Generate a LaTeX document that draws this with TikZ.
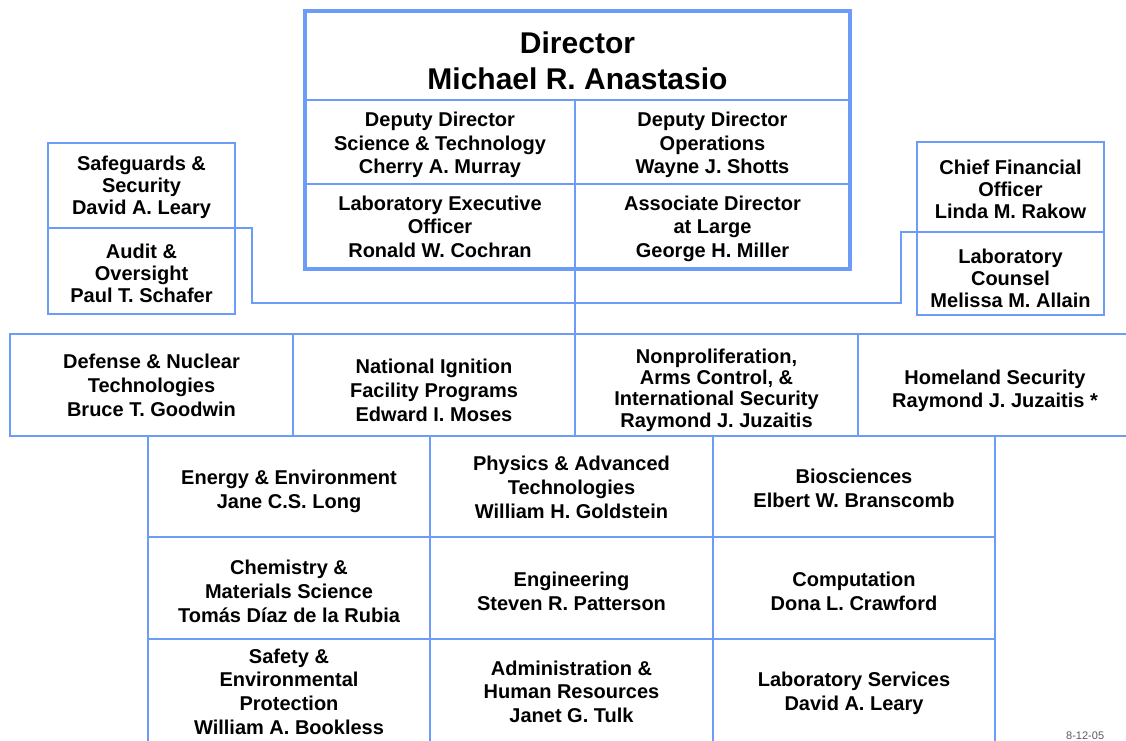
\documentclass[tikz,border=0pt]{standalone}
\usepackage{fontspec}
\setmainfont{Liberation Sans}
\definecolor{lineblue}{RGB}{108,156,248}
\definecolor{dategray}{RGB}{90,90,90}
% #1 name, #2 centre, #3 width, #4 height, #5 text style, #6 text shift (down, px), #7 text
\newcommand{\orgcell}[7]{%
  \node[cell,minimum width=#3,minimum height=#4] (#1) at #2 {};
  \node[txt,#5] (#1-t) at ([yshift=-#6]#1.center) {#7};}
\begin{document}
\begin{tikzpicture}[x=1pt,y=-1pt,
  cell/.style={draw=lineblue,line width=1.4pt,inner sep=0pt,outer sep=0pt},
  txt/.style={inner sep=0pt,align=center,font=\fontsize{20}{24}\selectfont\bfseries},
  reg/.style={},
  tight/.style={font=\fontsize{20}{22}\selectfont\bfseries},
  mid/.style={font=\fontsize{20}{23.5}\selectfont\bfseries},
  dense/.style={font=\fontsize{20}{21.3}\selectfont\bfseries},
  big/.style={font=\fontsize{30}{36}\selectfont\bfseries},
  conn/.style={draw=lineblue,line width=1.4pt},
  thickbox/.style={draw=lineblue,line width=4pt}]
\useasboundingbox (0,0) rectangle (1126,740);

% Director block
\orgcell{dir}{(577.5,55.5)}{545pt}{89pt}{big}{5pt}{Director\\Michael R. Anastasio}
\orgcell{dst}{(440,142)}{270pt}{84pt}{mid}{3pt}{Deputy Director\\Science \& Technology\\Cherry A. Murray}
\orgcell{ddo}{(712.5,142)}{275pt}{84pt}{mid}{3pt}{Deputy Director\\Operations\\Wayne J. Shotts}
\orgcell{leo}{(440,226.5)}{270pt}{85pt}{mid}{0pt}{Laboratory Executive\\Officer\\Ronald W. Cochran}
\orgcell{adl}{(712.5,226.5)}{275pt}{85pt}{mid}{2pt}{Associate Director\\at Large\\George H. Miller}
\draw[thickbox] (dir.north west) rectangle (adl.south east);

% Side staff offices
\orgcell{safe}{(141.5,185.5)}{187pt}{85pt}{tight}{2pt}{Safeguards \&\\Security\\David A. Leary}
\orgcell{audit}{(141.5,271)}{187pt}{86pt}{tight}{2pt}{Audit \&\\Oversight\\Paul T. Schafer}
\orgcell{cfo}{(1010.5,187)}{187pt}{90pt}{tight}{2pt}{Chief Financial\\Officer\\Linda M. Rakow}
\orgcell{counsel}{(1010.5,273.5)}{187pt}{83pt}{tight}{5pt}{Laboratory\\Counsel\\Melissa M. Allain}

% Programs row
\orgcell{dnt}{(151.5,385)}{283pt}{102pt}{reg}{0pt}{Defense \& Nuclear\\Technologies\\Bruce T. Goodwin}
\orgcell{nif}{(434,385)}{282pt}{102pt}{reg}{5pt}{National Ignition\\Facility Programs\\Edward I. Moses}
\orgcell{nai}{(716.5,385)}{283pt}{102pt}{dense}{5pt}{Nonproliferation,\\Arms Control, \&\\International Security\\Raymond J. Juzaitis}
\orgcell{hs}{(995,385)}{274pt}{102pt}{mid}{6pt}{Homeland Security\\Raymond J. Juzaitis *}

% Directorates grid
\orgcell{ee}{(289,486.5)}{282pt}{101pt}{reg}{5pt}{Energy \& Environment\\Jane C.S. Long}
\orgcell{pat}{(571.5,486.5)}{283pt}{101pt}{reg}{1pt}{Physics \& Advanced\\Technologies\\William H. Goldstein}
\orgcell{bio}{(854,486.5)}{282pt}{101pt}{mid}{2pt}{Biosciences\\Elbert W. Branscomb}
\orgcell{cms}{(289,588)}{282pt}{102pt}{reg}{3pt}{Chemistry \&\\Materials Science\\Tomás Díaz de la Rubia}
\orgcell{eng}{(571.5,588)}{283pt}{102pt}{reg}{3pt}{Engineering\\Steven R. Patterson}
\orgcell{comp}{(854,588)}{282pt}{102pt}{reg}{3pt}{Computation\\Dona L. Crawford}
\orgcell{sep}{(289,691.5)}{282pt}{105pt}{font=\fontsize{20}{23.7}\selectfont\bfseries}{0pt}{Safety \&\\Environmental\\Protection\\William A. Bookless}
\orgcell{ahr}{(571.5,691.5)}{283pt}{105pt}{mid}{0pt}{Administration \&\\Human Resources\\Janet G. Tulk}
\orgcell{ls}{(854,691.5)}{282pt}{105pt}{reg}{2pt}{Laboratory Services\\David A. Leary}

% Connectors
\coordinate (junc) at (575,303);
\draw[conn] (leo.south east) -- (nai.north west);
\draw[conn] (safe.south east) -- ++(17,0) |- (junc);
\draw[conn] (cfo.south west) -- ++(-16,0) |- (junc);

% Date stamp
\node[anchor=base west,inner sep=0pt,text=dategray,font=\fontsize{11}{13}\selectfont] (date) at (1066,739) {8-12-05};
\end{tikzpicture}
\end{document}
